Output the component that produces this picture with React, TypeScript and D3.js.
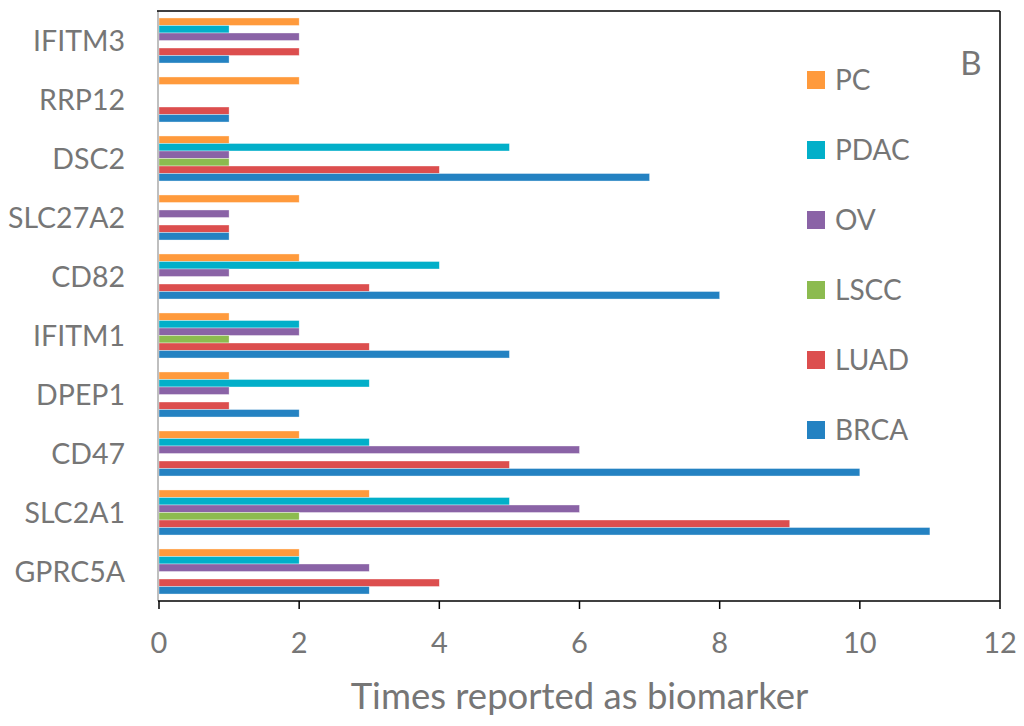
import React, { useRef, useEffect } from 'react';
import * as d3 from 'd3';

// genes, top to bottom
const genes = ['IFITM3', 'RRP12', 'DSC2', 'SLC27A2', 'CD82', 'IFITM1', 'DPEP1', 'CD47', 'SLC2A1', 'GPRC5A'];
// series, in the order they are stacked inside a group (top to bottom)
const cancers = ['PC', 'PDAC', 'OV', 'LSCC', 'LUAD', 'BRCA'];
const colors = ['#ff9a3c', '#02afc9', '#8a63a6', '#8cbb4f', '#dc4e4e', '#2482c2'];

const pc = [2, 2, 1, 2, 2, 1, 1, 2, 3, 2];
const pdac = [1, 0, 5, 0, 4, 2, 3, 3, 5, 2];
const ov = [2, 0, 1, 1, 1, 2, 1, 6, 6, 3];
const lscc = [0, 0, 1, 0, 0, 1, 0, 0, 2, 0];
const luad = [2, 1, 4, 1, 3, 3, 1, 5, 9, 4];
const brca = [1, 1, 7, 1, 8, 5, 2, 10, 11, 3];
const seriesValues = [pc, pdac, ov, lscc, luad, brca];

const xTicks = [0, 2, 4, 6, 8, 10, 12];

const FONT = 'Lato, "Open Sans", sans-serif';
const TEXT = '#767676';

const App = () => {
  const svgRef = useRef<SVGSVGElement | null>(null);

  useEffect(() => {
    if (!svgRef.current) return;
    const svg = d3.select(svgRef.current);
    svg.selectAll('*').remove();

    const left = 159, right = 1000, top = 11, bottom = 601;

    const x = d3.scaleLinear().domain([0, 12]).range([left, right]);
    const y0 = d3.scaleBand<string>().domain(genes).range([top, bottom]).padding(0);
    const y1 = d3.scaleBand<string>().domain(cancers).range([0, y0.bandwidth()])
      .paddingInner(0).paddingOuter(0.93);

    // bars
    cancers.forEach((c, si) => {
      svg.append('g')
        .selectAll('rect')
        .data(seriesValues[si].map((v, gi) => ({ v, g: genes[gi] })))
        .enter().append('rect')
        .attr('x', x(0))
        .attr('y', d => (y0(d.g) as number) + (y1(c) as number))
        .attr('width', d => x(d.v) - x(0))
        .attr('height', y1.bandwidth())
        .attr('fill', colors[si])
        .attr('stroke', d => d.v > 0 ? '#ffffff' : 'none')
        .attr('stroke-opacity', 0.6)
        .attr('stroke-width', 0.6);
    });

    // frame: gray left axis, black top/right/bottom
    svg.append('line').attr('x1', left - 1).attr('x2', left - 1).attr('y1', top).attr('y2', bottom)
      .attr('stroke', '#bfbfbf').attr('stroke-width', 2);
    svg.append('line').attr('x1', left - 2).attr('x2', right).attr('y1', top).attr('y2', top)
      .attr('stroke', '#000').attr('stroke-width', 1.5);
    svg.append('line').attr('x1', right).attr('x2', right).attr('y1', top).attr('y2', bottom)
      .attr('stroke', '#000').attr('stroke-width', 1.5);
    svg.append('line').attr('x1', left - 1).attr('x2', right).attr('y1', bottom).attr('y2', bottom)
      .attr('stroke', '#000').attr('stroke-width', 1.5);

    // x ticks + labels
    const tick = svg.append('g').selectAll('g').data(xTicks).enter().append('g');
    tick.append('line')
      .attr('x1', d => x(d)).attr('x2', d => x(d))
      .attr('y1', bottom).attr('y2', bottom + 8)
      .attr('stroke', '#000').attr('stroke-width', 1.5);
    tick.append('text')
      .attr('x', d => x(d)).attr('y', bottom + 52)
      .attr('text-anchor', 'middle')
      .attr('font-family', FONT).attr('font-size', 29).attr('fill', TEXT)
      .text(d => d);

    // category labels
    svg.append('g').selectAll('text').data(genes).enter().append('text')
      .attr('x', 125)
      .attr('y', d => (y0(d) as number) + y0.bandwidth() / 2)
      .attr('dy', '0.36em')
      .attr('text-anchor', 'end')
      .attr('font-family', FONT).attr('font-size', 28.5).attr('fill', TEXT)
      .text(d => d);

    // axis title
    svg.append('text')
      .attr('x', (left + right) / 2).attr('y', 709)
      .attr('text-anchor', 'middle')
      .attr('font-family', FONT).attr('font-size', 36.5).attr('fill', TEXT)
      .text('Times reported as biomarker');

    // panel letter
    svg.append('text')
      .attr('x', 971).attr('y', 75)
      .attr('text-anchor', 'middle')
      .attr('font-family', FONT).attr('font-size', 33).attr('fill', TEXT)
      .text('B');

    // legend
    const legend = svg.append('g').selectAll('g').data(cancers).enter().append('g')
      .attr('transform', (_, i) => `translate(807,${80 + i * 70})`);
    legend.append('rect')
      .attr('x', 0).attr('y', -9).attr('width', 18).attr('height', 18)
      .attr('fill', (_, i) => colors[i]);
    legend.append('text')
      .attr('x', 28).attr('y', 0).attr('dy', '0.36em')
      .attr('font-family', FONT).attr('font-size', 28).attr('fill', TEXT)
      .text(d => d);
  }, []);

  return (
    <svg
      ref={svgRef}
      width={1024}
      height={726}
      style={{ position: 'absolute', left: 0, top: 0, background: '#fff' }}
    />
  );
};

export default App;
